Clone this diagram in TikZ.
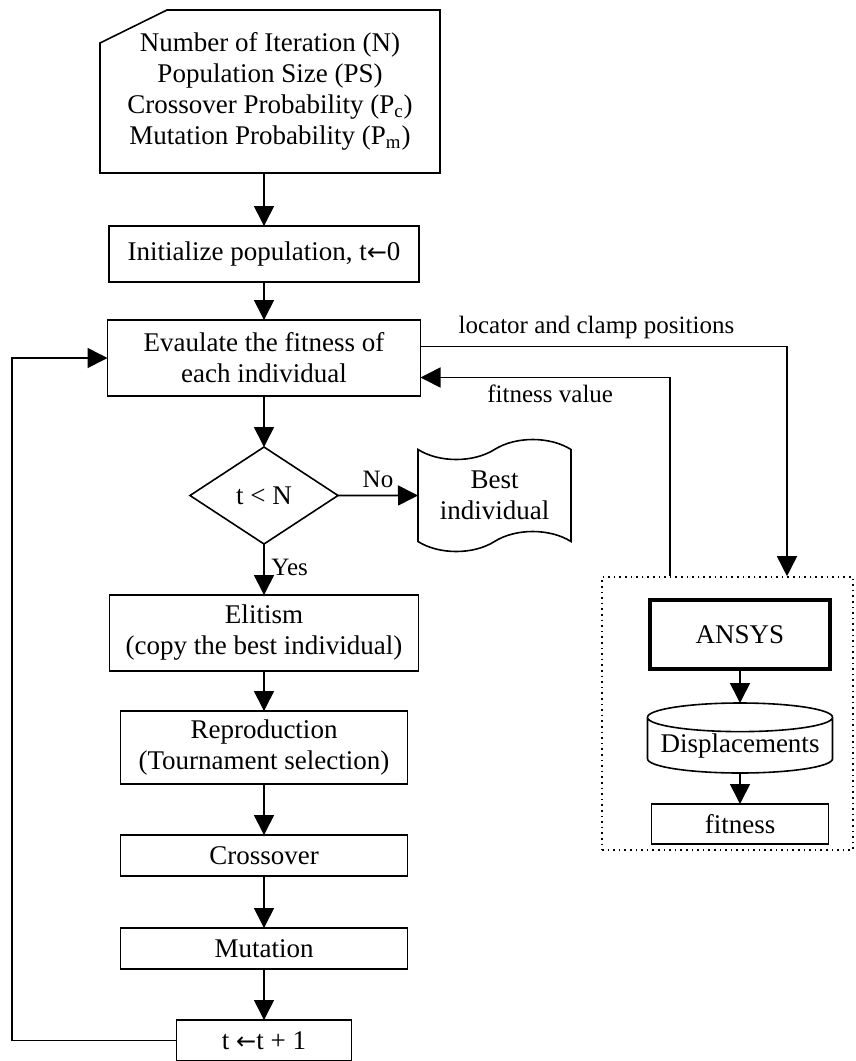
\documentclass[tikz,border=0pt]{standalone}
\usepackage{fontspec}
\setmainfont{Liberation Serif}
\newfontfamily\arrowfont{DejaVu Sans}
\usepackage{tikz}
\usetikzlibrary{shapes.geometric}
\usetikzlibrary{shapes.symbols}
\usetikzlibrary{positioning}
\usetikzlibrary{arrows.meta}

\newcommand{\getsarrow}{{\arrowfont\fontsize{12}{12}\selectfont ←}}

\begin{document}
\begin{tikzpicture} [
    x=0.5pt, y=-0.5pt,
    font=\fontsize{13.5}{15.5}\selectfont,
    line width=0.8pt,
    box/.style = {draw, rectangle, align=center, inner sep=0pt, outer sep=0pt},
    card/.style = {rectangle, align=center, inner sep=0pt, outer sep=0pt, minimum width=170pt, minimum height=81.5pt},
    decision/.style = {draw, diamond, inner sep=0pt, outer sep=0pt, minimum width=74pt, minimum height=48.5pt},
    doc/.style = {draw, tape, align=center, inner sep=0pt, outer sep=0pt, tape bend height=10pt,
        minimum width=76.5pt, minimum height=56pt},
    db/.style = {draw, cylinder, shape border rotate=90, aspect=0.18, inner sep=0pt, outer sep=0pt,
        minimum width=92.5pt, minimum height=35pt},
    lbl/.style = {font=\fontsize{12.5}{14}\selectfont},
    arr/.style = {-{Triangle[length=10pt,width=10pt]}}
    ]
    \useasboundingbox (0,0) rectangle (856,1061);

    \node[card] (param) at (270,91.5)
        {\fontsize{13.5}{13.5}\selectfont Number of Iteration (N)\\Population Size (PS)\\
         Crossover Probability (P\textsubscript{c})\\Mutation Probability (P\textsubscript{m})};
    \draw ([yshift=-16.5pt]param.north west) -- ([xshift=33.5pt]param.north west)
        -- (param.north east) -- (param.south east) -- (param.south west) -- cycle;
    \node[box, minimum width=155pt, minimum height=28pt, below=26.5pt of param, xshift=-3pt] (init)
        {Initialize population, t\getsarrow0};
    \node[box, minimum width=156.5pt, minimum height=38pt, below=19pt of init] (eval)
        {Evaulate the fitness of\\each individual};
    \node[decision, below=25.5pt of eval] (cond) {t < N};
    \node[doc, right=40pt of cond] (best) {Best\\individual};
    \node[box, minimum width=154.5pt, minimum height=38pt, below=25.5pt of cond] (elit)
        {Elitism\\(copy the best individual)};
    \node[box, minimum width=143.5pt, minimum height=36.5pt, below=20pt of elit] (repro)
        {Reproduction\\(Tournament selection)};
    \node[box, minimum width=143.5pt, minimum height=20.5pt, below=25.5pt of repro] (cross) {Crossover};
    \node[box, minimum width=143.5pt, minimum height=20.5pt, below=26pt of cross] (mut) {Mutation};
    \node[box, minimum width=87.5pt, minimum height=20.5pt, below=25.5pt of mut] (incr) {t \getsarrow t + 1};

    % finite element part
    \node[draw, dotted, minimum width=125.5pt, minimum height=136.5pt] (fea) at (727.5,713.5) {};
    \node[box, line width=1.6pt, minimum width=90pt, minimum height=34.5pt] (ansys) at (740,634.5) {ANSYS};
    \node[db, below=17pt of ansys] (disp) {Displacements};
    \node[box, minimum width=88.5pt, minimum height=20pt, below=15.5pt of disp] (fit) {fitness};

    \coordinate (loopx) at (12,0);
    \coordinate (locx) at (787,0);
    \coordinate (fitx) at (670,0);

    \draw[arr] (param.south -| init) -- (init);
    \draw[arr] (init) -- (eval);
    \draw[arr] (eval) -- (cond);
    \draw[arr] (cond) -- node[lbl, above, pos=0.5] {No} (best);
    \draw[arr] (cond) -- node[lbl, right, pos=0.45] {Yes} (elit);
    \draw[arr] (elit) -- (repro);
    \draw[arr] (repro) -- (cross);
    \draw[arr] (cross) -- (mut);
    \draw[arr] (mut) -- (incr);
    \draw[arr] (incr.west) -- (incr.west -| loopx) |- (eval.west);

    \draw[arr] ([yshift=5.75pt]eval.east) -| node[lbl, above, pos=0.24] {locator and clamp positions} (locx |- fea.north);
    \draw[arr] (fitx |- fea.north) |- node[lbl, below, pos=0.74] {fitness value} ([yshift=-9.75pt]eval.east);

    \draw[arr] (ansys) -- (disp);
    \draw[arr] (disp) -- (fit);
  \end{tikzpicture}
\end{document}
